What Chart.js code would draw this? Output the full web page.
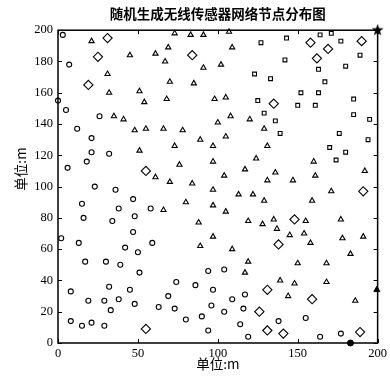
<!DOCTYPE html>
<html><head><meta charset="utf-8">
<script src="https://cdn.jsdelivr.net/npm/chart.js@4/dist/chart.umd.min.js"></script>
<style>html,body{margin:0;padding:0;background:#fff}</style>
</head><body>
<canvas id="c" width="390" height="377"></canvas>
<script>
const titleText = '随机生成无线传感器网络节点分布图';
const axisLabel = '单位:m';
const xTicks = [0, 50, 100, 150, 200];
const yTicks = [0, 20, 40, 60, 80, 100, 120, 140, 160, 180, 200];

const circleX = [3,7,0,5,26,12,21,21,32,18,6,23,36,15,38,47,58,48,16,34,2,13,47,42,50,59,17,30,39,51,8,32,45,19,29,38,33,48,8,15,21,29,63,69,74,73,80,86,94,97,96,90,94,104,109,117,104,116,114,119,138,155,164,177];
const circleY = [197,178,155,149,145,137,131,122,121,116,112,100,98,89,86,92,86,81,80,78,67,64,71,61,58,64,52,52,50,45,33,36,34,27,27,28,21,25,14,11,13,11,23,30,39,22,15,37,46,34,24,17,8,47,28,31,20,22,12,4,14,16,4,6];

const triX = [21,73,83,91,69,45,61,67,91,31,70,85,32,51,54,68,98,35,41,48,55,66,78,100,107,109,102,105,108,120,129,89,97,73,51,76,97,61,70,84,97,80,66,97,88,105,131,124,117,136,104,131,147,160,161,192,113,122,129,105,171,159,119,128,135,155,177,137,97,89,109,119,117,145,154,158,178,191,183,150,168,139,148,168,144,186];
const triY = [193,198,197,197,189,184,185,180,176,172,167,166,160,161,154,156,156,145,143,136,137,137,136,141,199,189,178,157,145,143,137,130,126,126,123,114,116,106,103,102,98,90,85,88,77,132,126,118,111,109,107,104,104,116,107,110,95,95,91,84,97,91,78,76,79,78,79,73,68,62,60,52,45,69,70,64,67,68,57,51,51,40,38,39,30,27];

const sqX = [127,143,164,171,177,189,142,163,180,123,133,167,152,163,125,150,161,185,129,136,185,195,139,176,194,170,180,174];
const sqY = [192,195,197,198,193,184,181,175,177,172,169,167,160,160,155,152,152,156,147,142,146,143,134,134,130,125,122,117];

const diaX = [31,25,19,84,158,190,169,162,135,55,191,148,55,138,131,159,126,131,141,189];
const diaY = [195,183,165,184,192,193,188,182,153,110,97,79,9,63,34,28,20,8,6,7];

const starX = [200], starY = [200];
const headTriX = [199.5], headTriY = [34];
const headCircX = [183], headCircY = [0];

const pts = (xs, ys) => xs.map((x, i) => ({x, y: ys[i]}));

// pentagram marker image
const starImg = document.createElement('canvas');
starImg.width = 13; starImg.height = 13;
(function(){
  const g = starImg.getContext('2d');
  g.fillStyle = '#000';
  g.beginPath();
  for (let k = 0; k < 10; k++) {
    const r = k % 2 === 0 ? 6.3 : 2.6;
    const a = -Math.PI / 2 + k * Math.PI / 5;
    const px = 6.5 + r * Math.cos(a), py = 6.5 + r * Math.sin(a);
    if (k === 0) g.moveTo(px, py); else g.lineTo(px, py);
  }
  g.closePath(); g.fill();
})();

const frame = {
  id: 'frame',
  beforeDatasetsDraw(chart) {
    const {ctx, chartArea: a, scales: {x, y}} = chart;
    ctx.save();
    ctx.strokeStyle = '#000';
    ctx.lineWidth = 1;
    const L = 4;
    ctx.beginPath();
    xTicks.forEach(v => {
      const px = Math.round(x.getPixelForValue(v)) + 0.5;
      ctx.moveTo(px, a.bottom); ctx.lineTo(px, a.bottom - L);
      ctx.moveTo(px, a.top); ctx.lineTo(px, a.top + L);
    });
    yTicks.forEach(v => {
      const py = Math.round(y.getPixelForValue(v)) + 0.5;
      ctx.moveTo(a.left, py); ctx.lineTo(a.left + L, py);
      ctx.moveTo(a.right, py); ctx.lineTo(a.right - L, py);
    });
    ctx.stroke();
    ctx.lineWidth = 1.5;
    ctx.strokeRect(a.left, a.top, a.right - a.left, a.bottom - a.top);
    // y-axis title (placed slightly above the axis centre, as in the reference)
    ctx.fillStyle = '#000';
    ctx.font = '13.5px "Noto Sans CJK SC"';
    ctx.textAlign = 'center';
    ctx.textBaseline = 'middle';
    ctx.translate(21, 169);
    ctx.rotate(-Math.PI / 2);
    ctx.fillText(axisLabel, 0, 0);
    ctx.restore();
  }
};

const base = {borderColor: '#000', backgroundColor: 'rgba(0,0,0,0)', borderWidth: 1.1, clip: false};

new Chart(document.getElementById('c'), {
  type: 'scatter',
  data: {
    datasets: [
      Object.assign({label: 'c1', data: pts(circleX, circleY), pointStyle: 'circle', pointRadius: 2.5}, base),
      Object.assign({label: 'c2', data: pts(triX, triY), pointStyle: 'triangle', pointRadius: 3}, base),
      Object.assign({label: 'c3', data: pts(sqX, sqY), pointStyle: 'rect', pointRadius: 2.7}, base),
      Object.assign({label: 'c4', data: pts(diaX, diaY), pointStyle: 'rectRot', pointRadius: 4.6}, base),
      {label: 'h1', data: pts(headTriX, headTriY), pointStyle: 'triangle', pointRadius: 3.5, borderColor: '#000', backgroundColor: '#000', borderWidth: 1, clip: false},
      {label: 'h2', data: pts(headCircX, headCircY), pointStyle: 'circle', pointRadius: 3, borderColor: '#000', backgroundColor: '#000', borderWidth: 1, clip: false},
      {label: 'sink', data: pts(starX, starY), pointStyle: starImg, pointRadius: 6, borderColor: '#000', backgroundColor: '#000', clip: false}
    ]
  },
  options: {
    responsive: false,
    animation: false,
    devicePixelRatio: 1,
    events: [],
    layout: {padding: {top: 0, right: 10, bottom: 0, left: 0}},
    plugins: {
      legend: {display: false},
      tooltip: {enabled: false},
      title: {
        display: true, text: titleText, fullSize: false,
        color: '#000',
        font: {family: '"Noto Sans CJK SC"', size: 13.5, weight: 'bold'},
        padding: {top: 6, bottom: 8}
      }
    },
    scales: {
      x: {
        type: 'linear', min: 0, max: 200,
        afterBuildTicks: s => { s.ticks = xTicks.map(v => ({value: v})); },
        afterFit: s => { s.height = 34; },
        grid: {display: false, drawTicks: false},
        border: {display: false},
        ticks: {color: '#000', padding: 3, maxRotation: 0, font: {family: '"Liberation Serif"', size: 12.5}},
        title: {display: true, text: axisLabel, color: '#000', padding: {top: 0, bottom: 5.5}, font: {family: '"Noto Sans CJK SC"', size: 13.5}}
      },
      y: {
        type: 'linear', min: 0, max: 200,
        afterBuildTicks: s => { s.ticks = yTicks.map(v => ({value: v})); },
        afterFit: s => { s.width = 58; },
        grid: {display: false, drawTicks: false},
        border: {display: false},
        ticks: {color: '#000', padding: 5, font: {family: '"Liberation Serif"', size: 12.5}},
        title: {display: false}
      }
    }
  },
  plugins: [frame]
});
</script>
</body></html>
